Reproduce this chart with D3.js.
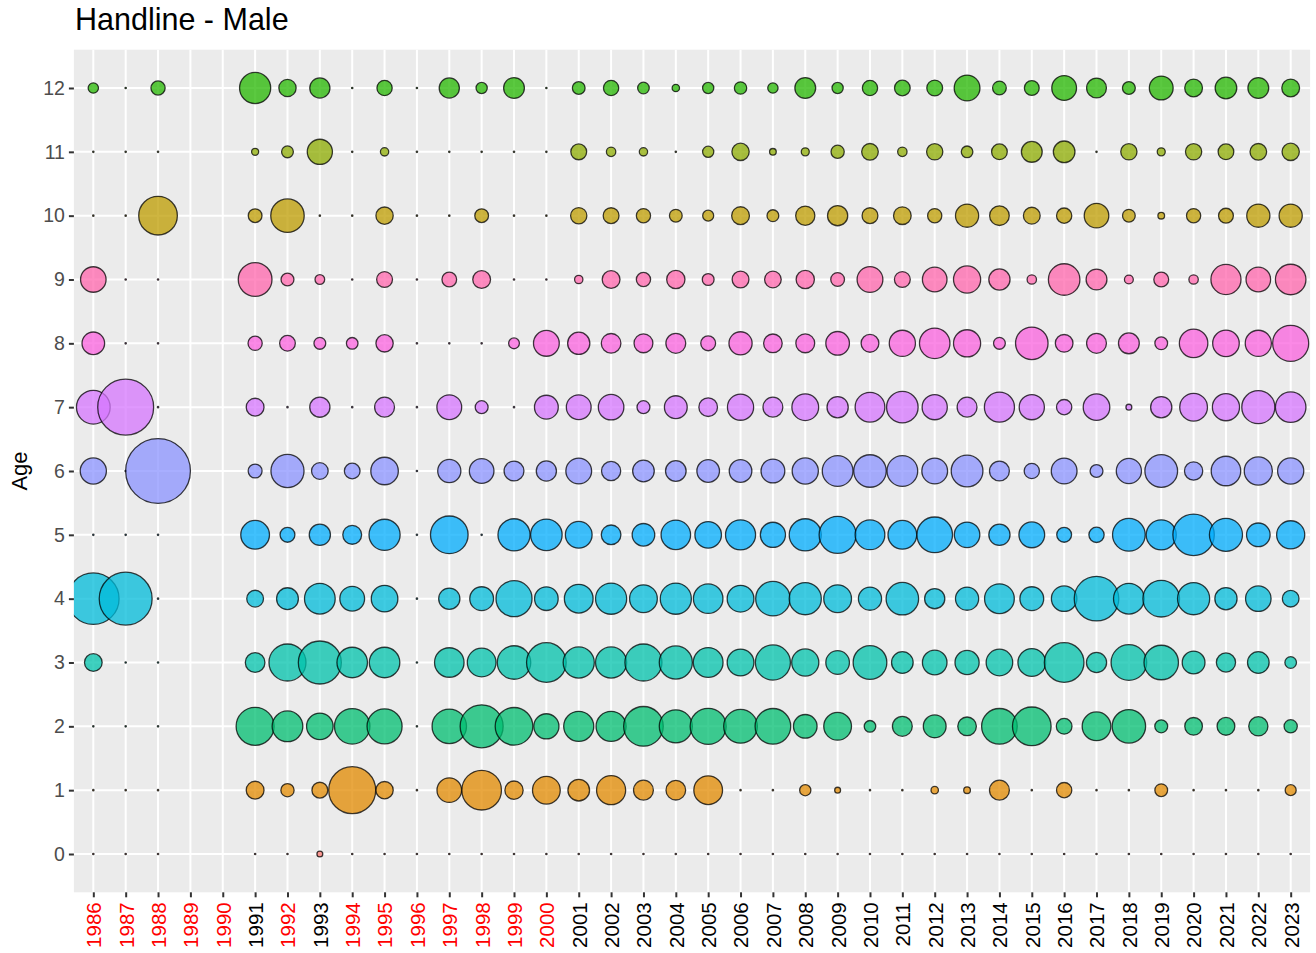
<!DOCTYPE html>
<html>
<head>
<meta charset="utf-8">
<script src="https://cdn.jsdelivr.net/npm/d3@7"></script>
<style>
  body { margin: 0; background: #fff; }
  text { font-family: "Liberation Sans", Arial, Helvetica, sans-serif; }
</style>
</head>
<body>
<div id="graphArea"></div>
<script>
var years = [1986,1987,1988,1989,1990,1991,1992,1993,1994,1995,1996,1997,1998,1999,2000,
             2001,2002,2003,2004,2005,2006,2007,2008,2009,2010,2011,2012,2013,2014,2015,
             2016,2017,2018,2019,2020,2021,2022,2023]
var ages = [0,1,2,3,4,5,6,7,8,9,10,11,12]
var redYears = [1986,1987,1988,1989,1990,1992,1994,1995,1996,1997,1998,1999,2000]

// one row per age, one value per year (null = no sample that year)
var age0  = [0,0,0,null,null,0,0,0.5,0,0,0,0,0,0,0,0,0,0,0,0,0,0,0,0,0,0,0,0,0,0,0,0,0,0,0,0,0,0]
var age1  = [0,0,0,null,null,6.7,3.5,5.2,51.7,6.3,0,13.4,36.4,7.1,17.3,10.2,19.1,8.5,8.3,18.6,0,0,2.4,0.5,0,0,0.9,0.7,8.5,0,4.8,0,0,3.2,0,0,0,2.3]
var age2  = [0,0,0,null,null,33.4,21.4,15.8,28.9,28.2,0,27.2,43.1,32.7,14.1,20.5,20.5,36.4,25.0,29.9,26.0,29.2,12.3,17.3,2.6,8.5,11.4,7.4,29.2,34.5,5.1,18.6,25.6,3.3,6.6,6.7,7.9,3.5]
var age3  = [6.6,0,0,null,null,8.3,31.6,43.1,21.1,21.1,0,19.7,18.6,25.6,36.4,22.0,22.0,31.6,25.0,20.0,16.0,28.2,16.5,12.3,26.0,10.2,13.4,12.9,15.8,17.3,36.4,8.8,29.2,27.2,11.4,7.9,10.2,2.6]
var age4  = [62.5,66.0,0,null,null,5.9,10.4,21.4,13.6,15.8,0,9.8,12.5,29.9,12.3,18.6,22.0,17.3,22.0,19.7,16.0,27.2,23.5,17.3,11.8,24.1,8.8,11.8,20.0,12.5,14.5,46.4,21.4,30.9,23.5,10.8,14.5,5.8]
var age5  = [0,0,0,null,null,18.6,4.5,9.8,7.6,22.0,0,32.7,0,23.5,22.6,16.0,8.3,11.2,19.7,15.8,20.5,14.1,23.5,31.6,20.0,18.6,29.2,14.5,9.8,14.8,4.5,4.8,24.4,20.5,39.9,25.0,12.3,17.8]
var age6  = [15.3,0,100,null,null,3.9,25.0,5.8,5.1,17.0,0,11.8,13.4,8.5,8.8,14.8,7.9,10.2,9.2,11.2,11.2,12.5,15.3,21.4,24.1,21.4,14.8,22.9,8.5,4.8,14.8,3.3,14.1,24.4,7.1,19.7,17.8,15.3]
var age7  = [26.0,73.9,0,null,null,6.7,0,8.8,0,8.5,0,13.6,3.3,0,12.5,13.6,14.5,3.3,11.4,7.4,15.3,8.5,16.0,9.8,20.0,22.6,14.1,8.5,20.5,14.1,4.8,15.8,0.5,9.8,17.3,16.5,25.0,21.1]
var age8  = [11.2,0,0,null,null,4.1,5.1,2.7,2.6,6.3,0,0,0,2.2,14.8,10.8,8.3,7.6,8.5,4.5,11.8,7.4,7.6,12.3,6.7,15.3,21.1,16.5,2.7,24.1,6.6,8.5,9.4,3.2,18.3,15.8,15.3,29.9]
var age9  = [14.5,0,0,null,null,26.0,3.3,1.7,0,5.2,0,4.4,6.7,0,0,1.2,6.7,4.1,7.1,2.7,5.9,5.8,7.1,3.8,14.8,5.2,13.4,16.5,9.8,1.6,22.6,9.4,1.4,4.5,1.6,20.5,13.4,21.1]
var age10 = [0,0,34.5,null,null,3.8,25.6,0,0,6.3,0,0,3.8,0,0,5.5,5.2,4.1,3.2,2.3,6.7,2.7,7.9,8.8,5.2,6.6,4.1,11.8,8.3,5.9,4.8,13.4,3.2,0.7,4.1,4.5,11.8,11.8]
var age11 = [0,0,0,null,null,0.8,2.7,14.1,0,1.2,0,0,0,0,0,5.2,1.6,1.2,0,2.4,6.3,0.7,1.1,3.5,5.8,1.6,5.5,2.6,5.1,9.4,10.2,0,5.5,1.1,5.5,5.1,5.8,6.3]
var age12 = [2.0,0,4.1,null,null,22.0,6.3,8.8,0,4.8,0,8.8,2.4,9.4,0,3.2,4.8,2.6,0.9,2.4,3.0,2.0,9.4,2.4,4.8,5.1,5.2,14.8,3.8,4.5,13.6,8.5,3.3,12.5,6.7,10.2,9.4,6.7]

var rows = [age0,age1,age2,age3,age4,age5,age6,age7,age8,age9,age10,age11,age12]

// ggplot hue palette, levels sorted as text: 0,1,10,11,12,2,...,9
var ageColors = {0:"#F8766D",1:"#E18A00",10:"#BE9C00",11:"#8CAB00",12:"#24B700",2:"#00BE70",
                 3:"#00C1AB",4:"#00BBDA",5:"#00ACFC",6:"#8B93FF",7:"#D575FE",8:"#F962DD",9:"#FF65AC"}

var W = 1316, H = 953
var panel = { left: 73.9, right: 1310.1, top: 49.7, bottom: 892.3 }

var svg = d3.select("#graphArea").append("svg")
  .attr("width", W)
  .attr("height", H)

var x = d3.scalePoint()
  .domain(years)
  .range([panel.left, panel.right])
  .padding(0.6)

var y = d3.scaleLinear()
  .domain([-0.6, 12.6])
  .range([panel.bottom, panel.top])

var maxVal = d3.max(rows, function(r){ return d3.max(r) })
var size = d3.scaleSqrt()
  .domain([0, maxVal])
  .range([0.7, 32.4])

// panel + grid
svg.append("rect")
  .attr("x", panel.left).attr("y", panel.top)
  .attr("width", panel.right - panel.left)
  .attr("height", panel.bottom - panel.top)
  .attr("fill", "#EBEBEB")

svg.append("g").selectAll("line")
  .data(ages).enter().append("line")
  .attr("x1", panel.left).attr("x2", panel.right)
  .attr("y1", function(d){ return y(d) }).attr("y2", function(d){ return y(d) })
  .attr("stroke", "#fff").attr("stroke-width", 2)

svg.append("g").selectAll("line")
  .data(years).enter().append("line")
  .attr("y1", panel.top).attr("y2", panel.bottom)
  .attr("x1", function(d){ return x(d) }).attr("x2", function(d){ return x(d) })
  .attr("stroke", "#fff").attr("stroke-width", 2)

// bubbles
var points = []
ages.forEach(function(a){
  rows[a].forEach(function(v, i){
    if (v !== null) points.push({ age: a, year: years[i], value: v })
  })
})

svg.append("defs").append("clipPath").attr("id", "clip")
  .append("rect")
  .attr("x", panel.left).attr("y", panel.top)
  .attr("width", panel.right - panel.left)
  .attr("height", panel.bottom - panel.top)

svg.append("g").attr("clip-path", "url(#clip)")
  .selectAll("circle")
  .data(points).enter().append("circle")
  .attr("cx", function(d){ return x(d.year) })
  .attr("cy", function(d){ return y(d.age) })
  .attr("r", function(d){ return size(d.value) })
  .attr("fill", function(d){ return ageColors[d.age] })
  .attr("fill-opacity", 0.75)
  .attr("stroke", "#000")
  .attr("stroke-opacity", 0.75)
  .attr("stroke-width", 1.3)

// axes
var yAxis = d3.axisLeft(y).tickValues(ages).tickSize(5).tickPadding(4)
var gy = svg.append("g")
  .attr("transform", "translate(" + panel.left + ",0)")
  .call(yAxis)
gy.select(".domain").remove()
gy.selectAll(".tick line").attr("stroke", "#333").attr("stroke-width", 2)
gy.selectAll(".tick text")
  .attr("fill", "#4D4D4D")
  .style("font-size", "19.5px")
  .style("font-family", "Liberation Sans, Arial, sans-serif")

var xAxis = d3.axisBottom(x).tickSize(5).tickPadding(4)
var gx = svg.append("g")
  .attr("transform", "translate(0," + panel.bottom + ")")
  .call(xAxis)
gx.select(".domain").remove()
gx.selectAll(".tick line").attr("stroke", "#333").attr("stroke-width", 2)
gx.selectAll(".tick text")
  .attr("transform", "rotate(-90)")
  .attr("x", -10).attr("y", 0).attr("dy", "0.36em")
  .attr("text-anchor", "end")
  .attr("fill", function(d){ return redYears.indexOf(d) != -1 ? "#FF0000" : "#000" })
  .style("font-size", "20.5px")
  .style("font-family", "Liberation Sans, Arial, sans-serif")

// titles
svg.append("text")
  .attr("x", 75).attr("y", 30)
  .attr("font-size", 30.5)
  .attr("fill", "#000")
  .text("Handline - Male")

svg.append("text")
  .attr("transform", "translate(27," + ((panel.top + panel.bottom) / 2) + ") rotate(-90)")
  .attr("text-anchor", "middle")
  .attr("font-size", 22)
  .attr("fill", "#000")
  .text("Age")
</script>
</body>
</html>
